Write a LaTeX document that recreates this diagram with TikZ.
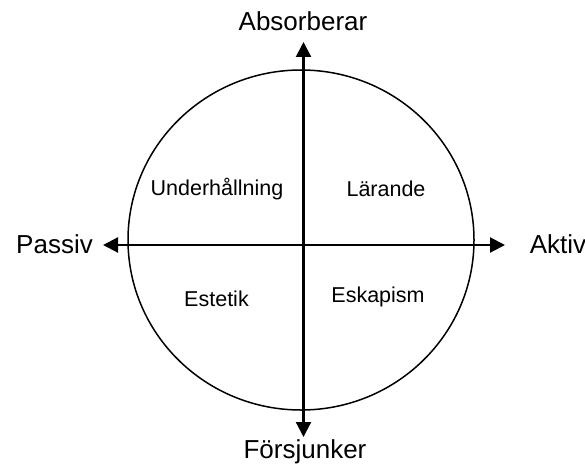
\documentclass[tikz,border=0pt]{standalone}
\usepackage{fontspec}
\setmainfont{Liberation Sans}
\usetikzlibrary{arrows.meta}
\begin{document}
\begin{tikzpicture}[x=1pt,y=-1pt,
  axis/.style={line width=2.1pt,-{Triangle[length=15pt,width=15pt]}},
  outer/.style={font=\fontsize{26}{30}\selectfont,inner sep=0pt},
  inner/.style={font=\fontsize{21.5}{25}\selectfont,inner sep=0pt}]
\useasboundingbox (0,0) rectangle (585,468);
\draw[line width=1.5pt] (301,240) ellipse [x radius=173, y radius=170];
\coordinate (c) at (303.5,245);
\coordinate (top) at (303.5,42);
\coordinate (bot) at (303.5,437);
\coordinate (left) at (103,245);
\coordinate (right) at (505,245);
\draw[axis] (c) -- (top);
\draw[axis] (c) -- (bot);
\draw[axis] (c) -- (left);
\draw[axis] (c) -- (right);
\node[outer] (abs) at (303,21) {Absorberar};
\node[outer] (fors) at (305,452) {Försjunker};
\node[outer] (pas) at (54.5,244) {Passiv};
\node[outer] (akt) at (558,244) {Aktiv};
\node[inner] (und) at (217,189) {Underhållning};
\node[inner] (lar) at (386,189) {Lärande};
\node[inner] (est) at (216.5,299) {Estetik};
\node[inner] (esk) at (378,297) {Eskapism};
\end{tikzpicture}
\end{document}
